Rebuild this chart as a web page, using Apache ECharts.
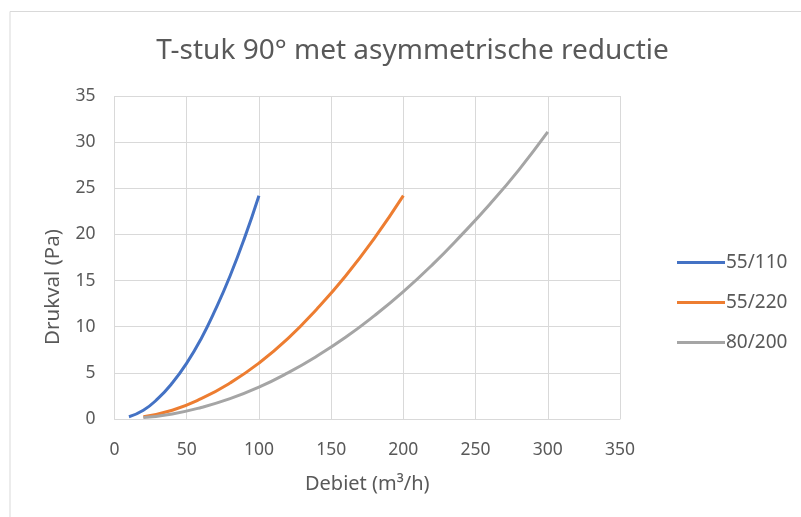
<!DOCTYPE html>
<html><head><meta charset="utf-8">
<script src="https://cdn.jsdelivr.net/npm/echarts@6/dist/echarts.min.js"></script>
<style>html,body{margin:0;padding:0;background:#fff}#c{width:801px;height:517px}</style>
</head><body><div id="c"></div>
<script>
const titleText = 'T-stuk 90° met asymmetrische reductie';
const xName = 'Debiet (m³/h)';
const yName = 'Drukval (Pa)';
const seriesNames = ['55/110', '55/220', '80/200'];
const colors = ['#4472C4', '#ED7D31', '#A5A5A5'];
const x55_110 = [10, 20, 30, 40, 50, 60, 70, 80, 90, 100];
const y55_110 = [0.25, 0.95, 2.2, 3.9, 6.05, 8.7, 11.9, 15.5, 19.6, 24.2];
const x55_220 = [20, 40, 60, 80, 100, 120, 140, 160, 180, 200];
const y55_220 = [0.25, 0.95, 2.2, 3.9, 6.05, 8.7, 11.9, 15.5, 19.6, 24.2];
const x80_200 = [20, 40, 60, 80, 100, 120, 140, 160, 180, 200, 220, 240, 260, 280, 300];
const y80_200 = [0.15, 0.55, 1.25, 2.2, 3.45, 5.0, 6.8, 8.85, 11.2, 13.8, 16.7, 19.9, 23.3, 27.0, 31.1];

const FONT = 'Noto Sans';
const TXT = '#595959';
function pairs(xs, ys){ return xs.map((x,i)=>[x, ys[i]]); }
const allData = [pairs(x55_110,y55_110), pairs(x55_220,y55_220), pairs(x80_200,y80_200)];

const chart = echarts.init(document.getElementById('c'));
chart.setOption({
  animation: false,
  backgroundColor: '#fff',
  graphic: [
    {type:'rect', left: 7.5, top: 9, shape:{width: 820, height: 540}, style:{fill:'none', stroke:'#d9d9d9', lineWidth:1}, silent:true},
    {type:'text', x: 53, y: 287, rotation: Math.PI/2, silent:true,
      style:{text: yName, fontFamily: FONT, fontSize: 20.5, fill: TXT, textAlign:'center', textVerticalAlign:'middle'}}
  ],
  title: {text: titleText, left: 407.5, textAlign: 'center', top: 32, textStyle:{fontFamily: FONT, fontWeight: 'normal', fontSize: 28, color: TXT}},
  legend: {orient:'vertical', left: 672, top: 248, itemWidth: 48, itemHeight: 3, itemGap: 21,
    icon: 'rect',
    textStyle:{fontFamily: FONT, fontSize: 19, color: TXT, padding:[0,0,0,-4]},
    data: seriesNames},
  grid: {left: 114.5, right: 181, top: 96, bottom: 98},
  xAxis: {type:'value', min:0, max:350, interval:50, name: xName, nameLocation:'middle', nameGap: 55,
    nameTextStyle:{fontFamily: FONT, fontSize: 20, color: TXT},
    axisLine:{show:true, lineStyle:{color:'#d9d9d9'}}, axisTick:{show:false},
    axisLabel:{fontFamily: FONT, fontSize: 17.5, color: TXT, margin: 22},
    splitLine:{show:true, lineStyle:{color:'#d9d9d9'}}},
  yAxis: {type:'value', min:0, max:35, interval:5, name: '', 
    axisLine:{show:false}, axisTick:{show:false},
    axisLabel:{fontFamily: FONT, fontSize: 17.5, color: TXT, margin: 19},
    splitLine:{show:true, lineStyle:{color:'#d9d9d9'}}},
  series: seriesNames.map((n,i)=>({name:n, type:'line', data: allData[i], smooth: true, showSymbol:false, symbol:'none',
    lineStyle:{color: colors[i], width: 3}, itemStyle:{color: colors[i]}}))
});
</script></body></html>
